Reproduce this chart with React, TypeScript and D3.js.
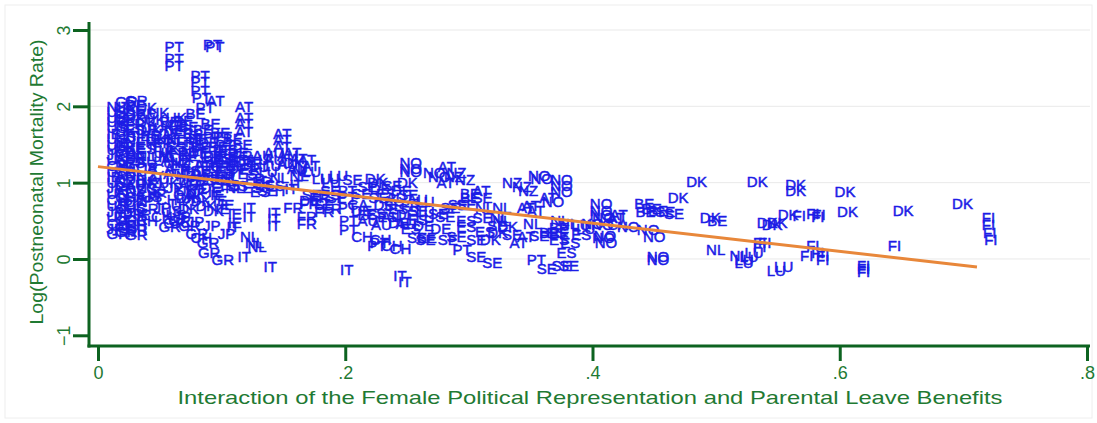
import React, { useEffect, useRef } from "react";
import * as d3 from "d3";

// each point: [interaction, log postneonatal mortality]
const PT = [[0.049, 2.79], [0.080, 2.81], [0.082, 2.79], [0.049, 2.63], [0.049, 2.54], [0.070, 2.41], [0.070, 2.32], [0.070, 2.21], [0.071, 2.11], [0.074, 1.98], [0.080, 1.60], [0.088, 1.60], [0.090, 1.50], [0.189, 0.90], [0.189, 0.82], [0.189, 0.68], [0.190, 0.51], [0.190, 0.38], [0.213, 0.18], [0.215, 0.22], [0.282, 0.12], [0.342, -0.01]];
const AT = [[0.083, 2.07], [0.106, 2.00], [0.106, 1.86], [0.106, 1.78], [0.106, 1.67], [0.137, 1.65], [0.137, 1.56], [0.137, 1.47], [0.157, 1.30], [0.160, 1.22], [0.145, 1.40], [0.150, 1.32], [0.270, 1.21], [0.269, 1.00], [0.298, 0.90], [0.334, 0.67], [0.342, 0.64], [0.338, 0.70], [0.334, 0.29], [0.328, 0.21], [0.352, 0.80], [0.407, 0.54], [0.409, 0.58]];
const AU = [[0.129, 1.40], [0.129, 1.30], [0.140, 1.25], [0.120, 1.36], [0.140, 1.35], [0.148, 1.18], [0.228, 0.80], [0.245, 0.78], [0.224, 0.56], [0.205, 0.50], [0.216, 0.45], [0.236, 0.46], [0.009, 1.31], [0.009, 1.09], [0.009, 0.88], [0.026, 1.28], [0.046, 1.30], [0.048, 1.12], [0.017, 0.97], [0.036, 1.06], [0.060, 0.98]];
const NZ = [[0.009, 1.24], [0.009, 1.02], [0.017, 0.90], [0.026, 1.10], [0.030, 1.00], [0.054, 1.26], [0.058, 1.10], [0.277, 1.13], [0.284, 1.04], [0.275, 1.08], [0.322, 1.00], [0.335, 0.90], [0.330, 0.95]];
const CA = [[0.009, 1.38], [0.009, 1.16], [0.009, 0.95], [0.017, 0.82], [0.026, 1.20], [0.040, 1.18], [0.034, 0.94], [0.056, 0.84], [0.064, 1.24], [0.197, 0.71], [0.407, 0.45]];
const NO = [[0.239, 1.26], [0.239, 1.19], [0.239, 1.14], [0.258, 1.13], [0.262, 1.08], [0.343, 1.10], [0.345, 1.05], [0.361, 1.04], [0.361, 0.96], [0.361, 0.88], [0.354, 0.75], [0.393, 0.73], [0.393, 0.64], [0.393, 0.58], [0.395, 0.54], [0.394, 0.45], [0.395, 0.28], [0.396, 0.31], [0.397, 0.21], [0.386, 0.46], [0.415, 0.42], [0.431, 0.38], [0.436, 0.29], [0.439, 0.03], [0.439, -0.01]];
const NL = [[0.002, 2.00], [0.017, 1.54], [0.017, 1.11], [0.026, 1.36], [0.044, 1.34], [0.050, 1.56], [0.062, 1.42], [0.080, 1.08], [0.094, 1.06], [0.098, 0.94], [0.098, 1.22], [0.110, 0.29], [0.114, 0.22], [0.116, 0.16], [0.134, 1.07], [0.150, 1.10], [0.152, 1.16], [0.300, 0.67], [0.314, 0.67], [0.312, 0.54], [0.314, 0.50], [0.339, 0.47], [0.361, 0.51], [0.368, 0.46], [0.487, 0.12], [0.506, 0.05]];
const DK = [[0.066, 0.86], [0.070, 0.76], [0.058, 0.80], [0.074, 0.70], [0.080, 0.64], [0.060, 0.66], [0.145, 1.26], [0.211, 1.06], [0.213, 1.00], [0.237, 1.00], [0.304, 0.25], [0.318, 0.42], [0.310, 0.35], [0.456, 0.81], [0.471, 1.01], [0.482, 0.54], [0.520, 1.01], [0.551, 0.97], [0.551, 0.90], [0.591, 0.88], [0.593, 0.62], [0.528, 0.48], [0.536, 0.48], [0.532, 0.45], [0.545, 0.58], [0.638, 0.64], [0.686, 0.73]];
const FI = [[0.557, 0.57], [0.568, 0.60], [0.573, 0.58], [0.572, 0.55], [0.525, 0.22], [0.529, 0.22], [0.525, 0.16], [0.568, 0.18], [0.563, 0.05], [0.572, 0.09], [0.576, 0.05], [0.576, -0.01], [0.609, -0.08], [0.609, -0.12], [0.609, -0.17], [0.634, 0.18], [0.710, 0.54], [0.710, 0.45], [0.711, 0.35], [0.712, 0.25]];
const LU = [[0.118, 1.30], [0.118, 1.21], [0.125, 1.14], [0.128, 1.22], [0.160, 1.14], [0.182, 1.10], [0.168, 1.06], [0.175, 1.06], [0.176, 1.00], [0.252, 0.75], [0.252, 0.62], [0.252, 0.54], [0.378, 0.45], [0.382, 0.40], [0.510, -0.01], [0.514, 0.03], [0.518, 0.09], [0.510, -0.05], [0.536, -0.15], [0.542, -0.10]];
const SE = [[0.124, 0.90], [0.160, 0.84], [0.170, 0.72], [0.175, 0.90], [0.180, 0.80], [0.193, 1.04], [0.200, 0.86], [0.205, 0.95], [0.214, 0.80], [0.225, 0.96], [0.226, 0.70], [0.238, 0.84], [0.246, 0.64], [0.262, 0.60], [0.268, 0.56], [0.245, 0.28], [0.252, 0.25], [0.253, 0.28], [0.270, 0.25], [0.277, 0.29], [0.278, 0.71], [0.285, 0.71], [0.272, 0.67], [0.298, 0.54], [0.298, 0.80], [0.310, 0.44], [0.322, 0.32], [0.293, 0.25], [0.293, 0.03], [0.306, -0.05], [0.344, 0.31], [0.350, -0.12], [0.362, -0.08], [0.368, -0.09], [0.446, 0.62], [0.453, 0.60]];
const BE = [[0.017, 1.94], [0.017, 1.47], [0.026, 1.90], [0.045, 1.80], [0.056, 1.82], [0.060, 1.73], [0.066, 1.91], [0.072, 1.70], [0.078, 1.78], [0.086, 1.66], [0.096, 1.58], [0.104, 1.50], [0.070, 1.48], [0.060, 1.36], [0.084, 1.48], [0.094, 1.28], [0.100, 1.30], [0.068, 1.58], [0.080, 1.34], [0.092, 1.34], [0.112, 1.25], [0.288, 0.86], [0.288, 0.80], [0.352, 0.35], [0.360, 0.41], [0.360, 0.34], [0.429, 0.73], [0.435, 0.66], [0.440, 0.64], [0.430, 0.62], [0.488, 0.51]];
const DE = [[0.017, 2.02], [0.017, 1.40], [0.017, 1.04], [0.026, 1.70], [0.044, 1.64], [0.052, 1.76], [0.048, 1.68], [0.064, 1.50], [0.076, 1.52], [0.088, 1.44], [0.080, 1.36], [0.084, 1.20], [0.100, 1.18], [0.060, 1.04], [0.070, 1.12], [0.078, 0.94], [0.068, 1.40], [0.100, 1.40], [0.106, 1.28], [0.158, 0.77], [0.200, 0.64], [0.215, 0.92], [0.232, 0.90], [0.218, 0.72], [0.236, 0.58], [0.230, 0.48], [0.250, 0.44], [0.264, 0.40]];
const FR = [[0.017, 1.78], [0.017, 1.33], [0.026, 1.54], [0.040, 1.52], [0.056, 1.66], [0.058, 1.54], [0.052, 1.40], [0.074, 1.22], [0.078, 1.28], [0.086, 1.02], [0.090, 1.08], [0.054, 1.18], [0.066, 0.98], [0.104, 1.36], [0.110, 1.18], [0.114, 1.06], [0.120, 1.02], [0.145, 0.68], [0.158, 0.73], [0.156, 0.55], [0.156, 0.47], [0.166, 0.80], [0.170, 0.62], [0.176, 0.66], [0.240, 0.70]];
const ES = [[0.017, 1.70], [0.017, 1.26], [0.026, 1.45], [0.050, 1.48], [0.064, 1.64], [0.092, 1.44], [0.088, 1.32], [0.090, 1.16], [0.094, 0.98], [0.082, 1.04], [0.100, 0.96], [0.108, 1.12], [0.062, 1.16], [0.078, 1.16], [0.112, 0.93], [0.118, 0.88], [0.122, 0.98], [0.130, 0.96], [0.175, 0.84], [0.205, 0.58], [0.220, 0.86], [0.230, 0.66], [0.212, 0.60], [0.246, 0.52], [0.221, 0.55], [0.240, 0.40], [0.285, 0.51], [0.285, 0.42], [0.300, 0.36], [0.358, 0.35], [0.360, 0.25], [0.369, 0.22], [0.378, 0.32], [0.366, 0.09]];
const IT = [[0.017, 1.62], [0.017, 1.18], [0.062, 1.30], [0.068, 1.56], [0.072, 1.38], [0.086, 1.24], [0.096, 1.12], [0.108, 0.03], [0.129, -0.10], [0.112, 0.68], [0.112, 0.55], [0.132, 0.61], [0.132, 0.53], [0.132, 0.44], [0.099, 0.42], [0.138, 0.90], [0.146, 0.92], [0.150, 0.98], [0.191, -0.14], [0.234, -0.21], [0.238, -0.30]];
const IE = [[0.002, 1.65], [0.002, 1.08], [0.009, 1.75], [0.009, 1.52], [0.026, 1.62], [0.026, 0.58], [0.032, 1.20], [0.034, 1.62], [0.036, 1.48], [0.072, 0.92], [0.084, 0.88], [0.076, 1.04], [0.086, 0.84], [0.088, 0.76], [0.094, 0.71], [0.100, 0.60], [0.090, 0.66], [0.100, 0.48]];
const UK = [[0.002, 1.80], [0.002, 1.50], [0.009, 1.98], [0.009, 1.83], [0.009, 1.67], [0.009, 1.46], [0.017, 1.86], [0.017, 0.75], [0.026, 1.98], [0.026, 1.80], [0.026, 1.02], [0.030, 1.70], [0.033, 1.83], [0.034, 1.56], [0.036, 1.92], [0.040, 1.40], [0.040, 1.72], [0.042, 1.58], [0.044, 1.44], [0.048, 1.26], [0.050, 1.86], [0.038, 1.34], [0.066, 1.08], [0.044, 1.00], [0.058, 0.90], [0.062, 0.80], [0.054, 0.72]];
const US = [[0.002, 1.93], [0.002, 1.86], [0.002, 1.72], [0.002, 1.58], [0.002, 1.44], [0.002, 1.30], [0.002, 1.15], [0.002, 1.00], [0.002, 0.86], [0.002, 0.70], [0.002, 0.55], [0.009, 1.90], [0.009, 1.60], [0.017, 0.68], [0.026, 0.92], [0.030, 0.82], [0.046, 0.64], [0.050, 0.58]];
const JP = [[0.002, 1.37], [0.002, 0.93], [0.002, 0.62], [0.002, 0.40], [0.009, 0.73], [0.009, 0.58], [0.017, 0.60], [0.026, 0.76], [0.040, 0.68], [0.050, 0.94], [0.056, 0.56], [0.036, 0.86], [0.067, 0.49], [0.092, 0.34], [0.080, 0.44]];
const CH = [[0.002, 1.22], [0.002, 0.78], [0.002, 0.47], [0.009, 0.80], [0.009, 0.66], [0.009, 0.43], [0.017, 0.45], [0.026, 0.84], [0.026, 0.50], [0.042, 0.78], [0.038, 0.56], [0.070, 0.28], [0.200, 0.29], [0.215, 0.26], [0.231, 0.14], [0.224, 0.18]];
const GR = [[0.002, 0.33], [0.009, 2.06], [0.009, 0.50], [0.009, 0.36], [0.017, 2.08], [0.017, 0.52], [0.017, 0.38], [0.017, 0.32], [0.026, 0.66], [0.048, 0.48], [0.052, 0.50], [0.060, 0.44], [0.044, 0.42], [0.066, 0.34], [0.075, 0.21], [0.076, 0.09], [0.087, -0.01]];

const countryCodes = ["PT", "AT", "AU", "NZ", "CA", "NO", "NL", "DK", "FI", "LU", "SE", "BE", "DE", "FR", "ES", "IT", "IE", "UK", "US", "JP", "CH", "GR"];
const countryPoints = [PT, AT, AU, NZ, CA, NO, NL, DK, FI, LU, SE, BE, DE, FR, ES, IT, IE, UK, US, JP, CH, GR];

// linear fit
const fitIntercept = 1.21;
const fitSlope = -1.85;
const fitRange = [0, 0.711];

const yTicks = [-1, 0, 1, 2, 3];
const xTicks = [0, 0.2, 0.4, 0.6, 0.8];
const xTickLabels = ["0", ".2", ".4", ".6", ".8"];

const W = 1097;
const H = 423;
const AXIS = "#0d6320";
const TXT = "#1f7a33";
const BLUE = "#1c1ce6";
const FONT = "Arial, 'Liberation Sans', Helvetica, sans-serif";

export default function App() {
  const ref = useRef<SVGSVGElement>(null);

  useEffect(() => {
    const svg = d3.select(ref.current);
    svg.selectAll("*").remove();

    const x = d3.scaleLinear().domain([0, 0.8]).range([98, 1087]);
    const y = d3.scaleLinear().domain([-1, 3]).range([335.3, 30]);
    const axisX = 89;
    const axisY = 346;

    svg.append("rect").attr("width", W).attr("height", H).attr("fill", "#fff");
    svg.append("rect")
      .attr("x", 5).attr("y", 5).attr("width", W - 10).attr("height", H - 10)
      .attr("fill", "none").attr("stroke", "#eeeeee");

    // gridlines
    svg.append("g").selectAll("line")
      .data(yTicks.filter((d) => d >= 0))
      .enter().append("line")
      .attr("x1", axisX).attr("x2", 1090)
      .attr("y1", (d) => y(d)).attr("y2", (d) => y(d))
      .attr("stroke", "#e9e9e9").attr("stroke-width", 1);

    // labels as markers
    const rows: { code: string; v: number; m: number }[] = [];
    countryCodes.forEach((c, i) => {
      countryPoints[i].forEach((p) => rows.push({ code: c, v: p[0], m: p[1] }));
    });
    svg.append("g").selectAll("text")
      .data(rows)
      .enter().append("text")
      .attr("x", (d) => x(d.v) + 6)
      .attr("y", (d) => y(d.m))
      .attr("dominant-baseline", "central")
      .attr("font-family", FONT)
      .attr("font-size", 15)
      .attr("fill", BLUE)
      .attr("stroke", BLUE)
      .attr("stroke-width", 0.5)
      .text((d) => d.code);

    // fitted line
    const line = d3.line<number>().x((d) => x(d)).y((d) => y(fitIntercept + fitSlope * d));
    svg.append("path")
      .attr("d", line(fitRange))
      .attr("fill", "none")
      .attr("stroke", "#e8873a")
      .attr("stroke-width", 3);

    // y axis
    const yAxis = svg.append("g")
      .attr("transform", `translate(${axisX},0)`)
      .call(d3.axisLeft(y).tickValues(yTicks).tickSize(16).tickFormat(d3.format("d")));
    yAxis.select(".domain").remove();
    yAxis.selectAll(".tick line").attr("stroke", AXIS).attr("stroke-width", 3);
    yAxis.selectAll(".tick text")
      .attr("x", null).attr("dy", null)
      .attr("transform", "translate(-19,0) rotate(-90)")
      .attr("text-anchor", "middle")
      .attr("font-family", FONT).attr("font-size", 18).attr("fill", TXT);
    svg.append("line")
      .attr("x1", axisX).attr("x2", axisX).attr("y1", 22).attr("y2", axisY + 1.5)
      .attr("stroke", AXIS).attr("stroke-width", 3);

    // x axis
    const xAxis = svg.append("g")
      .attr("transform", `translate(0,${axisY})`)
      .call(d3.axisBottom(x).tickValues(xTicks).tickSize(15).tickPadding(5)
        .tickFormat((d, i) => xTickLabels[i]));
    xAxis.select(".domain").remove();
    xAxis.selectAll(".tick line").attr("stroke", AXIS).attr("stroke-width", 3);
    xAxis.selectAll(".tick text")
      .attr("font-family", FONT).attr("font-size", 18).attr("fill", TXT);
    svg.append("line")
      .attr("x1", axisX - 1.5).attr("x2", 1090).attr("y1", axisY).attr("y2", axisY)
      .attr("stroke", AXIS).attr("stroke-width", 3);

    // titles
    svg.append("text")
      .attr("x", 590).attr("y", 404)
      .attr("text-anchor", "middle")
      .attr("font-family", FONT).attr("font-size", 19).attr("fill", TXT)
      .attr("textLength", 825).attr("lengthAdjust", "spacingAndGlyphs")
      .text("Interaction of the Female Political Representation and Parental Leave Benefits");
    svg.append("text")
      .attr("transform", "translate(43,182) rotate(-90)")
      .attr("text-anchor", "middle")
      .attr("font-family", FONT).attr("font-size", 18).attr("fill", TXT)
      .attr("textLength", 285).attr("lengthAdjust", "spacingAndGlyphs")
      .text("Log(Postneonatal Mortality Rate)");
  }, []);

  return (
    <div style={{ position: "absolute", left: 0, top: 0 }}>
      <svg ref={ref} width={W} height={H} />
    </div>
  );
}
